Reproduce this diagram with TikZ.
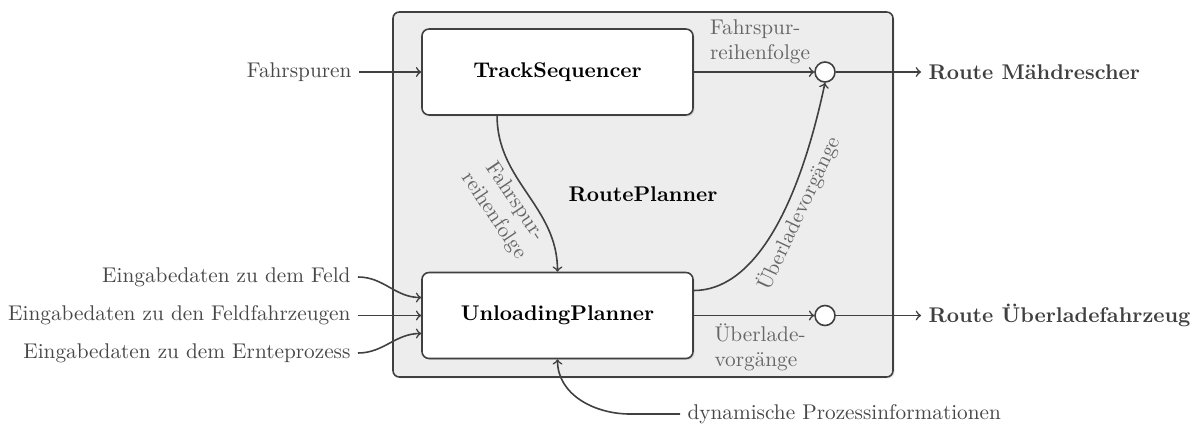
\documentclass[tikz,border=0pt]{standalone}
\usetikzlibrary{shadows}
\begin{document}
\begin{tikzpicture}[x=0.47pt,y=0.47pt,
  wire/.style={draw=black!75, line width=0.75pt, ->},
  container/.style={draw=black!75, line width=0.75pt, fill=black!7, rounded corners=3pt,
    font=\bfseries, drop shadow={shadow xshift=0.7pt, shadow yshift=-0.7pt, opacity=0.2}},
  block/.style={draw=black!75, line width=0.75pt, fill=white, rounded corners=3.3pt,
    minimum width=127.4pt, minimum height=40.4pt, font=\bfseries,
    drop shadow={shadow xshift=0.7pt, shadow yshift=-0.7pt, opacity=0.2}},
  junction/.style={circle, draw=black!75, fill=white, line width=0.75pt, minimum size=9.4pt, inner sep=0pt},
  flowlbl/.style={text=black!60, align=left},
  inlbl/.style={text=black!72},
  outlbl/.style={text=black!75, font=\bfseries}]
\useasboundingbox (0,0) rectangle (1196,429);

% RoutePlanner container
\node[container, minimum width=235pt, minimum height=171.55pt] (rp) at (643,234.5) {RoutePlanner};

% planner blocks
\node[block] (ts) at (557.5,357) {TrackSequencer};
\node[block] (up) at (557.5,113.5) {UnloadingPlanner};

% junctions
\node[junction] (c1) at (825,357) {};
\node[junction] (c2) at (825,113.5) {};

% inputs
\node[inlbl, anchor=east] (fs) at (359,357) {Fahrspuren};
\node[inlbl, anchor=east] (feld) at (358,152) {Eingabedaten zu dem Feld};
\node[inlbl, anchor=east] (fz) at (358,113.5) {Eingabedaten zu den Feldfahrzeugen};
\node[inlbl, anchor=east] (ep) at (358,76) {Eingabedaten zu dem Ernteprozess};
\node[inlbl, anchor=west] (dyn) at (680,15) {dynamische Prozessinformationen};

% outputs
\node[outlbl, anchor=west] (rm) at (921,357) {Route Mähdrescher};
\node[outlbl, anchor=west] (ru) at (921,113.5) {Route Überladefahrzeug};

% connections
\draw[wire] (fs.east) -- (ts.west);
\draw[wire] (feld.east) to[out=0,in=180] ([yshift=8.46pt]up.west);
\draw[wire] (fz.east) -- (up.west);
\draw[wire] (ep.east) to[out=0,in=180] ([yshift=-8.46pt]up.west);
\draw[wire] (dyn.west) -- ++(-50,0) to[out=180,in=-90] (up.south);

\draw[wire] (ts.east) -- node[flowlbl, above, pos=0.55] {Fahrspur-\\reihenfolge} (c1.west);
\draw[wire] ([xshift=-28.4pt]ts.south) to[out=-90,in=90]
  node[flowlbl, sloped, below, pos=0.5, align=center, inner sep=2pt] {Fahrspur-\\reihenfolge} (up.north);
\draw[wire] ([yshift=11.75pt]up.east) to[out=0,in=-102,out looseness=0.6,in looseness=1.4]
  node[flowlbl, sloped, below, pos=0.62, inner sep=1pt] {Überladevorgänge} (c1.south);
\draw[wire] (up.east) -- node[flowlbl, below, pos=0.55] {Überlade-\\vorgänge} (c2.west);

\draw[wire] (c1.east) -- (rm.west);
\draw[wire] (c2.east) -- (ru.west);
\end{tikzpicture}
\end{document}
